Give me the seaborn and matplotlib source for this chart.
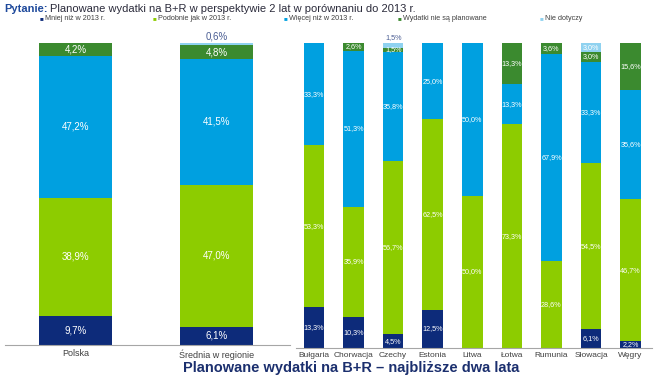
import matplotlib
matplotlib.use("Agg")
import matplotlib.pyplot as plt
import seaborn as sns
import numpy as np
import pandas as pd

sns.set_theme(style="white")
plt.rcParams['font.family'] = ['Liberation Sans', 'DejaVu Sans']

# ---- data ----
series = ["Mniej niż w 2013 r.", "Podobnie jak w 2013 r.", "Więcej niż w 2013 r.",
          "Wydatki nie są planowane", "Nie dotyczy"]
colors = ["#0d2b7a", "#8dcc00", "#00a0e0", "#3b8a2f", "#8fd2f0"]

left_cats = ["Polska", "Średnia w regionie"]
left_mniej = [9.7, 6.1]
left_podobnie = [38.9, 47.0]
left_wiecej = [47.2, 41.5]
left_brak = [4.2, 4.8]
left_nie = [0.0, 0.6]

right_cats = ["Bułgaria", "Chorwacja", "Czechy", "Estonia", "Litwa", "Łotwa",
              "Rumunia", "Słowacja", "Węgry"]
right_mniej = [13.3, 10.3, 4.5, 12.5, 0.0, 0.0, 0.0, 6.1, 2.2]
right_podobnie = [53.3, 35.9, 56.7, 62.5, 50.0, 73.3, 28.6, 54.5, 46.7]
right_wiecej = [33.3, 51.3, 35.8, 25.0, 50.0, 13.3, 67.9, 33.3, 35.6]
right_brak = [0.0, 2.6, 1.5, 0.0, 0.0, 13.3, 3.6, 3.0, 15.6]
right_nie = [0.0, 0.0, 1.5, 0.0, 0.0, 0.0, 0.0, 3.0, 0.0]

W, H = 655, 379
fig = plt.figure(figsize=(W / 100, H / 100), dpi=100)

def fx(px):
    return px / W

def fy(py):
    return 1 - py / H

def fmt(v):
    return f"{v:.1f}".replace(".", ",") + "%"

def stacked(ax, cats, cols, width, fs, outside):
    vals = np.array(cols)  # series x cats
    cum = np.cumsum(vals, axis=0)
    for i in range(len(series) - 1, -1, -1):
        df = pd.DataFrame({"cat": cats, "val": cum[i]})
        sns.barplot(data=df, x="cat", y="val", order=cats, color=colors[i],
                    saturation=1, width=width, ax=ax, errorbar=None,
                    linewidth=0)
    for j, c in enumerate(cats):
        for i in range(len(series)):
            v = vals[i, j]
            if v <= 0:
                continue
            base = cum[i, j] - v
            if (i, j) in outside:
                ax.text(j, cum[i, j] + 0.6, fmt(v), ha="center", va="bottom",
                        fontsize=fs, color="#4a5d93", clip_on=False)
            else:
                ax.text(j, base + v / 2, fmt(v), ha="center", va="center",
                        fontsize=fs, color="white")
    ax.set_ylim(0, 100)
    ax.set_xlabel("")
    ax.set_ylabel("")
    ax.set_yticks([])
    for s in ["top", "left", "right"]:
        ax.spines[s].set_visible(False)
    ax.spines["bottom"].set_color("#a6a6a6")
    ax.spines["bottom"].set_linewidth(0.8)
    ax.tick_params(axis="x", length=0, pad=3, colors="#404040")

# left panel
axL = fig.add_axes([fx(5), fy(345), fx(290) - fx(5), fy(43) - fy(345)])
stacked(axL, left_cats, [left_mniej, left_podobnie, left_wiecej, left_brak, left_nie],
        0.52, 7, outside={(4, 1)})
axL.set_xlim(-0.5, 1.52)
for t in axL.get_xticklabels():
    t.set_fontsize(6.5)
axL.tick_params(axis="x", pad=3)

# right panel
axR = fig.add_axes([fx(296), fy(348), fx(652) - fx(296), fy(43) - fy(348)])
stacked(axR, right_cats, [right_mniej, right_podobnie, right_wiecej, right_brak, right_nie],
        0.52, 5.2, outside={(4, 2)})
axR.set_xlim(-0.455, 8.54)
for t in axR.get_xticklabels():
    t.set_fontsize(6)
axR.tick_params(axis="x", pad=3)

# title
t1 = fig.text(fx(4), fy(9), "Pytanie:", fontsize=8, fontweight="bold",
              color="#1f4a9c", va="center", ha="left")
fig.canvas.draw()
bb = t1.get_window_extent()
fig.text(bb.x1 / W + fx(3), fy(9), "Planowane wydatki na B+R w perspektywie 2 lat w porównaniu do 2013 r.",
         fontsize=8, color="#2b2b3b", va="center", ha="left")

# legend
leg_x = [40, 153, 284, 398, 540]
for i, name in enumerate(series):
    fig.text(fx(leg_x[i]), fy(19), "■", fontsize=4.5, color=colors[i], va="center", ha="left")
    fig.text(fx(leg_x[i] + 5), fy(19), name, fontsize=5.2, color="#404040",
             va="center", ha="left")

# bottom title
fig.text(fx(351), fy(368), "Planowane wydatki na B+R – najbliższe dwa lata",
         fontsize=10.5, fontweight="bold", color="#1b2f6e", ha="center", va="center")

fig.savefig("out.png", dpi=100)
